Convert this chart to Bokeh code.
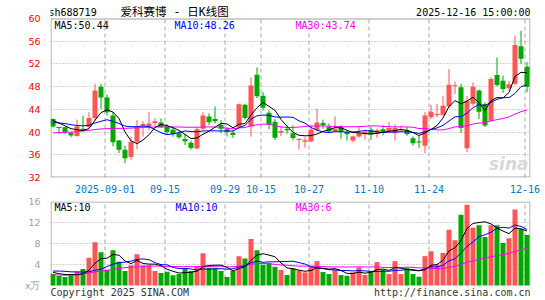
import pandas as pd
from bokeh.plotting import figure
from bokeh.models import Range1d, FixedTicker, Label
from bokeh.layouts import column
from bokeh.embed import file_html
from bokeh.resources import INLINE

# ---------------- data ----------------
days = pd.bdate_range("2025-08-19", "2025-12-16")
days = days[~((days >= "2025-10-01") & (days <= "2025-10-08"))]

tick_dates = ["2025-09-01", "2025-09-15", "2025-09-29", "2025-10-15",
              "2025-10-27", "2025-11-10", "2025-11-24", "2025-12-16"]
tick_labels = ["2025-09-01", "09-15", "09-29", "10-15", "10-27", "11-10", "11-24", "12-16"]

opens = [42.3, 40.8, 40.85, 39.9, 39.3, 40.6, 40.9, 42.5, 48.0, 46.1,
         42.9, 38.5, 36.9, 35.6, 38.3, 41.1, 41.0, 41.6, 41.7, 41.0,
         40.4, 39.8, 38.8, 38.1, 37.1, 40.6, 42.75, 42.3, 41.3, 40.5,
         39.9, 40.85, 44.8, 41.0, 50.1, 46.4, 43.4, 41.8, 39.9, 40.55,
         39.8, 38.6, 38.3, 38.35, 40.4, 41.6, 40.9, 40.1, 40.9, 40.0,
         38.5, 39.2, 39.6, 40.4, 39.7, 40.5, 40.1, 39.8, 40.3, 40.3,
         38.9, 38.25, 37.6, 42.6, 43.0, 43.0, 44.5, 48.05, 47.9, 37.15,
         45.0, 47.3, 44.95, 42.0, 50.05, 49.05, 47.7, 48.5, 55.1, 51.5]
highs = [42.4, 40.9, 40.9, 40.0, 42.2, 42.9, 43.5, 48.5, 48.5, 46.6,
         43.5, 38.6, 37.6, 39.2, 42.1, 41.9, 43.5, 42.4, 42.4, 41.4,
         41.0, 40.2, 39.7, 38.5, 40.9, 43.5, 43.3, 44.5, 42.1, 40.9,
         40.3, 45.0, 45.0, 49.6, 51.4, 47.0, 43.8, 42.3, 41.0, 41.2,
         41.2, 38.9, 39.1, 41.2, 44.1, 42.2, 41.5, 42.75, 41.2, 40.3,
         39.4, 40.9, 40.3, 40.9, 40.6, 41.2, 41.75, 41.35, 41.1, 40.9,
         39.25, 39.3, 43.5, 44.8, 44.95, 46.4, 51.1, 48.9, 48.5, 46.4,
         48.75, 47.5, 45.2, 49.65, 53.15, 49.95, 49.0, 57.0, 57.85, 52.3]
lows = [40.8, 39.7, 39.6, 39.1, 39.2, 40.1, 40.7, 42.0, 44.1, 42.9,
        37.5, 36.3, 34.5, 35.1, 37.0, 39.2, 40.3, 41.1, 40.8, 39.6,
        39.2, 38.8, 37.7, 36.9, 37.0, 40.3, 41.2, 41.5, 39.8, 39.2,
        39.0, 40.7, 42.2, 39.2, 46.0, 43.8, 40.5, 38.6, 39.3, 39.7,
        38.5, 36.9, 37.25, 38.2, 40.1, 40.6, 40.0, 40.0, 38.8, 38.5,
        38.2, 39.0, 38.65, 38.65, 39.0, 39.4, 39.8, 38.5, 40.0, 39.35,
        37.6, 37.2, 36.3, 42.3, 42.6, 42.9, 44.2, 46.7, 39.85, 36.45,
        44.6, 42.3, 40.9, 41.9, 48.0, 46.9, 47.3, 48.3, 52.0, 47.0]
closes = [41.0, 40.7, 40.0, 39.4, 41.0, 40.2, 42.5, 47.3, 46.1, 43.5,
          38.2, 36.9, 35.4, 38.3, 41.0, 41.4, 41.5, 41.9, 40.85, 40.0,
          39.6, 39.1, 38.4, 37.2, 40.5, 42.9, 41.75, 41.9, 40.6, 40.0,
          39.5, 44.9, 42.5, 48.2, 46.3, 44.3, 41.3, 39.0, 40.2, 40.3,
          38.95, 38.7, 38.55, 40.4, 41.7, 41.2, 40.1, 40.6, 40.1, 39.6,
          39.2, 39.8, 40.05, 39.6, 40.3, 40.05, 40.7, 40.7, 40.5, 39.6,
          38.05, 38.15, 42.9, 43.6, 43.05, 44.65, 48.35, 48.1, 40.7, 45.5,
          48.0, 43.6, 41.15, 49.35, 48.3, 47.6, 48.4, 55.35, 52.9, 48.0]
volumes = [2.18, 1.8, 1.61, 1.99, 2.6, 3.13, 5.27, 8.24, 6.34, 3.0,
           6.72, 4.51, 2.75, 3.88, 5.97, 3.88, 3.88, 2.75, 2.37, 2.62,
           1.93, 2.18, 3.13, 2.75, 3.69, 6.16, 3.38, 3.38, 2.75, 1.61,
           2.75, 5.59, 5.15, 8.87, 6.72, 3.95, 4.26, 3.57, 2.94, 1.99,
           3.25, 2.87, 2.5, 3.7, 4.64, 2.56, 2.18, 2.94, 1.99, 1.86,
           2.5, 3.44, 1.99, 2.75, 4.45, 3.0, 2.18, 4.64, 2.18, 3.31,
           2.18, 1.67, 5.59, 6.53, 4.0, 6.2, 10.6, 8.6, 13.5, 15.4,
           11.0, 11.5, 9.25, 11.5, 11.5, 8.1, 9.0, 14.5, 10.8, 9.6]

# moving-average values before a full window exists
ma5_head = [42.05, 41.6, 41.1, 40.6]
ma10_head = [41.7, 41.6, 41.5, 41.3, 41.15, 41.1, 41.2, 41.6, 41.9]
ma30_head = [39.85, 39.9, 39.95, 40.0, 40.1, 40.2, 40.3, 40.45, 40.55, 40.6,
             40.65, 40.65, 40.65, 40.7, 40.75, 40.8, 40.85, 40.9, 40.9, 40.9,
             40.9, 40.9, 40.85, 40.85, 40.85, 40.9, 40.9, 40.9, 40.85]
vma5_head = [2.5, 2.25, 2.1, 2.1]
vma10_head = [2.75, 2.75, 2.7, 2.6, 2.6, 2.55, 2.6, 2.9, 3.1]
vma30_head = [2.0, 2.0, 1.95, 2.0, 2.1, 2.25, 2.35, 2.6, 2.75, 2.85,
              3.1, 3.25, 3.4, 3.5, 3.55, 3.6, 3.7, 3.7, 3.7, 3.6,
              3.6, 3.6, 3.6, 3.6, 3.6, 3.6, 3.6, 3.65, 3.7]

price_ticks = [32, 36, 40, 44, 48, 52, 56, 60]
price_grid = [36, 40, 44, 48, 52, 56]
vol_ticks = [0, 4, 8, 12, 16]
vol_grid = [4, 8, 12]

header_code = "sh688719"
header_title = "爱科赛博 - 日K线图"
header_time = "2025-12-16 15:00:00"
ma_price_labels = ["MA5:50.44", "MA10:48.26", "MA30:43.74"]
ma_vol_labels = ["MA5:10", "MA10:10", "MA30:6"]

# ---------------- helpers ----------------
def moving(vals, n, head):
    out = list(head)
    for i in range(n - 1, len(vals)):
        out.append(sum(vals[i - n + 1:i + 1]) / n)
    return out

N = len(closes)
xs = list(range(N))
UP, DOWN = "#FF5555", "#00A800"
colors = [UP if c >= o else DOWN for o, c in zip(opens, closes)]
btm = [min(o, c) for o, c in zip(opens, closes)]
top = [max(max(o, c), min(o, c) + 0.18) for o, c in zip(opens, closes)]

tick_pos = [days.get_loc(pd.Timestamp(d)) - 1 / 3 for d in tick_dates]

X0 = -5 / 12
X1 = X0 + 80
xr = Range1d(X0, X1)
GRID = "#A8A8A8"
BORDER = "#A0A0A0"
MONO = "DejaVu Sans Mono"
DX = 1 / 6              # data units per pixel (x)
DYP = 28 / 159          # price units per pixel
DYV = 16 / 84           # volume units per pixel

P_LO, P_HI = price_ticks[0], price_ticks[-1]
V_LO, V_HI = vol_ticks[0], vol_ticks[-1]

def xd(px):
    return X0 + (px - 50) * DX

def yd_main(py):
    return P_HI - (py - 18) * DYP

def yd_vol(py):
    return V_HI - (py - 201) * DYV

def lab(fig, x, y, text, color, size="10px", font=MONO, align="left", style="normal"):
    fig.add_layout(Label(x=x, y=y, text=text, text_color=color, text_font_size=size,
                         text_font=font, text_align=align, text_baseline="middle",
                         text_font_style=style))

# ---------------- main (price) panel ----------------
p1 = figure(width=545, height=195, x_range=xr, y_range=Range1d(P_LO, P_HI + 18 * DYP),
            output_backend="svg", toolbar_location=None,
            min_border_left=50, min_border_right=15, min_border_top=0, min_border_bottom=18)
p1.outline_line_color = None
p1.background_fill_color = "white"
p1.border_fill_color = "white"

p1.xaxis.ticker = FixedTicker(ticks=tick_pos)
p1.xaxis.major_label_overrides = {t: l for t, l in zip(tick_pos, tick_labels)}
p1.xaxis.major_label_text_color = "#0A78C8"
p1.xaxis.major_label_text_font = MONO
p1.xaxis.major_label_text_font_size = "10px"
p1.xaxis.major_label_standoff = 1
p1.xaxis.axis_line_color = None
p1.xaxis.major_tick_line_color = None
p1.xaxis.minor_tick_line_color = None

p1.yaxis.ticker = FixedTicker(ticks=price_ticks)
p1.yaxis.major_label_text_color = "#FF0000"
p1.yaxis.major_label_text_font = "DejaVu Sans"
p1.yaxis.major_label_text_font_size = "9.5px"
p1.yaxis.major_label_standoff = 4
p1.yaxis.axis_line_color = None
p1.yaxis.major_tick_line_color = None
p1.yaxis.minor_tick_line_color = None

p1.xgrid.visible = False
p1.ygrid.ticker = FixedTicker(ticks=price_grid)
p1.ygrid.grid_line_color = GRID
p1.ygrid.grid_line_dash = "1 2"

# vertical dashed date lines inside the price box
p1.segment(x0=tick_pos, y0=[P_LO] * len(tick_pos), x1=tick_pos, y1=[P_HI] * len(tick_pos),
           line_color=GRID, line_dash="4 3", line_width=1)
# price box border
p1.quad(left=X0 + 0.5 * DX, right=X1 - 0.5 * DX, bottom=P_LO + 0.5 * DYP, top=P_HI - 0.5 * DYP,
        fill_color=None, line_color=BORDER, line_width=1)

p1.segment(x0=xs, y0=highs, x1=xs, y1=lows, line_color=colors, line_width=1)
p1.vbar(x=xs, width=5 / 6, top=top, bottom=btm, fill_color=colors, line_color=None)

ma5 = moving(closes, 5, ma5_head)
ma10 = moving(closes, 10, ma10_head)
ma30 = moving(closes, 30, ma30_head)
p1.line(xs, ma30, line_color="#FF00FF", line_width=1)
p1.line(xs, ma10, line_color="#0000FF", line_width=1)
p1.line(xs, ma5, line_color="#000000", line_width=1)

lab(p1, xd(48), yd_main(11.5), header_code, "#000000", "10px")
lab(p1, xd(120), yd_main(11.5), header_title, "#000000", "11.5px",
    "DejaVu Sans Mono, Noto Sans CJK SC")
lab(p1, xd(530), yd_main(11.5), header_time, "#000000", "10px", align="right")
lab(p1, xd(54), yd_main(24.5), ma_price_labels[0], "#000000")
lab(p1, xd(174), yd_main(24.5), ma_price_labels[1], "#0000FF")
lab(p1, xd(295), yd_main(24.5), ma_price_labels[2], "#FF00FF")
lab(p1, xd(528), yd_main(163), "sina", "#D8D8D8", "17px", "DejaVu Sans", align="right", style="bold italic")

# ---------------- volume panel ----------------
p2 = figure(width=545, height=105, x_range=xr, y_range=Range1d(V_LO - 15 * DYV, V_HI),
            output_backend="svg", toolbar_location=None, x_axis_location=None,
            min_border_left=50, min_border_right=15, min_border_top=6, min_border_bottom=0)
p2.outline_line_color = None
p2.background_fill_color = "white"
p2.border_fill_color = "white"

p2.yaxis.ticker = FixedTicker(ticks=vol_ticks)
p2.yaxis.major_label_overrides = {0: "x万"}
p2.yaxis.major_label_text_color = "#A0A0A0"
p2.yaxis.major_label_text_font = "DejaVu Sans"
p2.yaxis.major_label_text_font_size = "9.5px"
p2.yaxis.major_label_standoff = 4
p2.yaxis.axis_line_color = None
p2.yaxis.major_tick_line_color = None
p2.yaxis.minor_tick_line_color = None

p2.xgrid.visible = False
p2.ygrid.ticker = FixedTicker(ticks=vol_grid)
p2.ygrid.grid_line_color = GRID
p2.ygrid.grid_line_dash = "1 2"

p2.segment(x0=tick_pos, y0=[V_LO] * len(tick_pos), x1=tick_pos, y1=[V_HI] * len(tick_pos),
           line_color=GRID, line_dash="4 3", line_width=1)
bl, br, bt = X0 + 0.5 * DX, X1 - 0.5 * DX, V_HI - 0.5 * DYV
p2.multi_line(xs=[[bl, bl, br, br]], ys=[[V_LO, bt, bt, V_LO]], line_color=BORDER, line_width=1)

p2.vbar(x=xs, width=5 / 6, top=volumes, bottom=V_LO, fill_color=colors, line_color=None)
vma5 = moving(volumes, 5, vma5_head)
vma10 = moving(volumes, 10, vma10_head)
vma30 = moving(volumes, 30, vma30_head)
p2.line(xs, vma30, line_color="#FF00FF", line_width=1)
p2.line(xs, vma10, line_color="#0000FF", line_width=1)
p2.line(xs, vma5, line_color="#000000", line_width=1)

lab(p2, xd(54), yd_vol(206.5), ma_vol_labels[0], "#000000")
lab(p2, xd(175), yd_vol(206.5), ma_vol_labels[1], "#0000FF")
lab(p2, xd(295), yd_vol(206.5), ma_vol_labels[2], "#FF00FF")
lab(p2, xd(50), yd_vol(292), "Copyright 2025 SINA.COM", "#333333")
lab(p2, xd(530), yd_vol(292), "http://finance.sina.com.cn", "#333333", align="right")

layout = column(p1, p2)
open("out.html", "w").write(file_html(layout, INLINE))
